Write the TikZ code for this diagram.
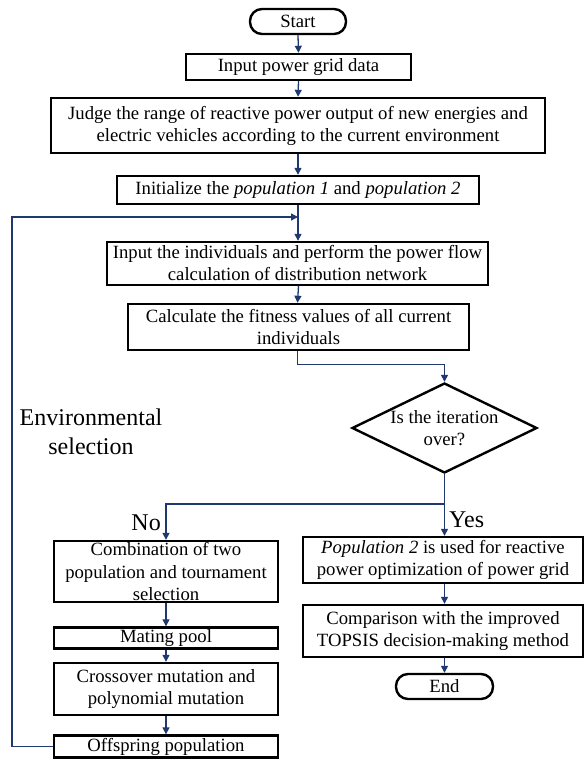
\documentclass[tikz,border=0pt]{standalone}
\usepackage{fontspec}
\setmainfont{Liberation Serif}
\usetikzlibrary{shapes.geometric,arrows.meta}
\definecolor{navy}{RGB}{31,56,112}
\tikzset{
  box/.style={draw=black, line width=2.4pt, fill=white, align=center, inner sep=0pt,
    font=\fontsize{18.7}{22}\selectfont},
  term/.style={box, rounded corners=12pt},
  dia/.style={draw=black, line width=2.4pt, diamond, inner sep=0pt, minimum width=185pt, minimum height=90pt},
  lbl/.style={align=center, inner sep=0pt, font=\fontsize{24}{29}\selectfont},
  arr/.style={draw=navy, line width=1.3pt, -{Triangle[length=7pt,width=7pt]}},
  ln/.style={draw=navy, line width=1.3pt},
}
\begin{document}
\begin{tikzpicture}[x=1pt,y=-1pt]
\useasboundingbox (0,0) rectangle (586,761);
% nodes
\node[term, minimum width=96pt, minimum height=25pt] (start) at (298,21.5) {Start};
\node[box, minimum width=225pt, minimum height=26pt] (input) at (298.5,67) {Input power grid data};
\node[box, minimum width=494pt, minimum height=55pt] (judge) at (298,125.5) {Judge the range of reactive power output of new energies and\\electric vehicles according to the current environment};
\node[box, minimum width=362pt, minimum height=28pt] (init) at (298,190) {Initialize the \textit{population 1} and \textit{population 2}};
\node[box, minimum width=381pt, minimum height=43pt] (indiv) at (297.5,263.5) {Input the individuals and perform the power flow\\calculation of distribution network};
\node[box, minimum width=341pt, minimum height=46pt] (calc) at (298.5,327) {Calculate the fitness values of all current\\individuals};
\node[dia] (dec) at (444.5,428) {};
\node[align=center, inner sep=0pt, font=\fontsize{18.7}{22}\selectfont] (dectext) at (444.5,428) {Is the iteration\\over?};
\node[box, minimum width=224pt, minimum height=61pt] (comb) at (166,571.5) {Combination of two\\population and tournament\\selection};
\node[box, minimum width=224pt, minimum height=21pt] (mating) at (166,638) {Mating pool};
\node[box, minimum width=224pt, minimum height=52pt] (cross) at (166,689) {Crossover mutation and\\polynomial mutation};
\node[box, minimum width=224pt, minimum height=22pt] (off) at (166,746.5) {Offspring population};
\node[box, minimum width=280pt, minimum height=46pt] (pop2) at (443,560) {\textit{Population 2} is used for reactive\\power optimization of power grid};
\node[box, minimum width=280pt, minimum height=52pt] (comp) at (443,631) {Comparison with the improved\\TOPSIS decision-making method};
\node[term, minimum width=97pt, minimum height=25pt] (end) at (444.5,686.5) {End};
\node[lbl] (env) at (91,432) {Environmental\\selection};
\node[lbl, anchor=east] (no) at (161,523) {No};
\node[lbl, anchor=west] (yes) at (449,520) {Yes};
% coordinates
\coordinate (join) at (298,217);
\coordinate (split) at (444.5,504);
\coordinate (fbl) at (12,746.5);
\coordinate (fbt) at (12,217);
% connectors
\draw[arr] (start.south) -- (input.north);
\draw[arr] (input.south) -- (judge.north);
\draw[arr] (judge.south) -- (init.north);
\draw[arr] (init.south) -- (init.south |- indiv.north);
\draw[arr] (indiv.south) -- (indiv.south -| calc.south) -- (calc.north -| indiv.south);
\draw[arr] (calc.south -| indiv.south) -- ++(0,13) -| (dec.north);
\draw[ln] (dec.south) -- (split);
\draw[arr] (split) -- (dec.south |- pop2.north);
\draw[arr] (split) -| (comb.north);
\draw[arr] (comb.south) -- (mating.north);
\draw[arr] (mating.south) -- (cross.north);
\draw[arr] (cross.south) -- (off.north);
\draw[arr] (pop2.south -| dec.south) -- (comp.north -| dec.south);
\draw[arr] (comp.south -| end.north) -- (end.north);
\draw[arr] (off.west) -- (fbl) -- (fbt) -- (join);
\end{tikzpicture}
\end{document}
